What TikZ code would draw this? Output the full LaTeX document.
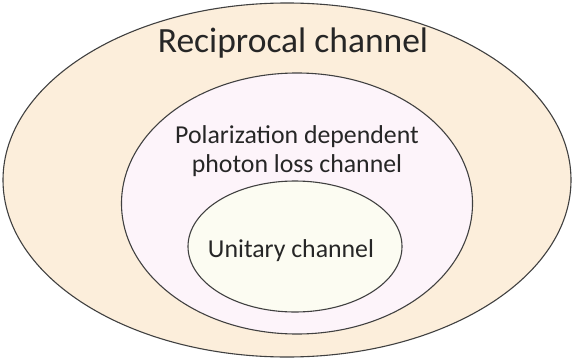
\documentclass[tikz,border=0pt]{standalone}
\usepackage{fontspec}
\setmainfont{Carlito}
\definecolor{outerfill}{HTML}{FCEEDB}
\definecolor{midfill}{HTML}{FDF4FA}
\definecolor{innerfill}{HTML}{FCFCF2}
\definecolor{edge}{HTML}{404040}
\begin{document}
\begin{tikzpicture}[x=1pt,y=-1pt,
  ring/.style={draw=edge,line width=1.1pt},
  lbl/.style={font=\fontsize{25.8}{29}\selectfont,text=black!85,align=center}]
\useasboundingbox (0,0) rectangle (572,361);
\fill[white] (0,0) rectangle (572,361);
\path[ring,fill=outerfill] (287,180) ellipse [x radius=284, y radius=177];
\path[ring,fill=midfill] (297,203.5) ellipse [x radius=175.5, y radius=130.5];
\path[ring,fill=innerfill] (295,246.5) ellipse [x radius=107, y radius=65.5];
\node[lbl,font=\fontsize{35.5}{42}\selectfont] (rec) at (293,43) {Reciprocal channel};
\node[lbl] (pol) at (297,151) {Polarization dependent\\photon loss channel};
\node[lbl] (uni) at (291,251) {Unitary channel};
\end{tikzpicture}
\end{document}
